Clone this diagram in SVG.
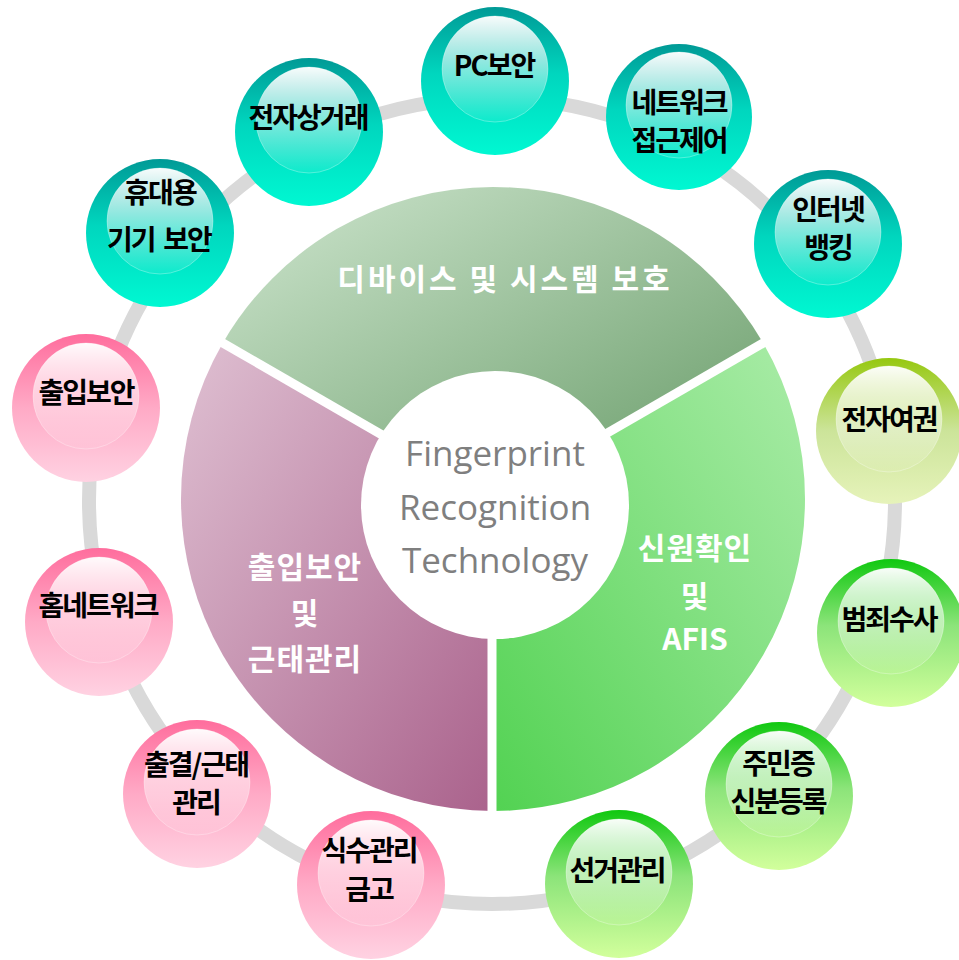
<svg xmlns="http://www.w3.org/2000/svg" width="959" height="960" viewBox="0 0 959 960">
<defs>
<linearGradient id="gTop" x1="0" y1="0" x2="1" y2="1"><stop offset="0" stop-color="#cfe6cf"/><stop offset="1" stop-color="#669a66"/></linearGradient>
<linearGradient id="gLeft" x1="0" y1="0" x2="1" y2="1"><stop offset="0" stop-color="#dfc0d2"/><stop offset="1" stop-color="#aa628c"/></linearGradient>
<linearGradient id="gRight" x1="1" y1="0" x2="0" y2="1"><stop offset="0" stop-color="#aaeca8"/><stop offset="1" stop-color="#52d252"/></linearGradient>
<linearGradient id="teal" x1="0" y1="0" x2="0" y2="1"><stop offset="0" stop-color="#009a96"/><stop offset="0.45" stop-color="#00d6be"/><stop offset="1" stop-color="#00f8d2"/></linearGradient>
<linearGradient id="pink" x1="0" y1="0" x2="0" y2="1"><stop offset="0" stop-color="#ff6d9d"/><stop offset="0.5" stop-color="#ffaac6"/><stop offset="1" stop-color="#ffd2e2"/></linearGradient>
<linearGradient id="green" x1="0" y1="0" x2="0" y2="1"><stop offset="0" stop-color="#10c810"/><stop offset="0.45" stop-color="#8ce47a"/><stop offset="1" stop-color="#d2ff9c"/></linearGradient>
<linearGradient id="lime" x1="0" y1="0" x2="0" y2="1"><stop offset="0" stop-color="#96c810"/><stop offset="0.5" stop-color="#cce49a"/><stop offset="1" stop-color="#e6f3ba"/></linearGradient>
<linearGradient id="hl" x1="0" y1="0" x2="0" y2="1"><stop offset="0" stop-color="#ffffff" stop-opacity="0.97"/><stop offset="0.5" stop-color="#ffffff" stop-opacity="0.5"/><stop offset="1" stop-color="#ffffff" stop-opacity="0.05"/></linearGradient>
</defs>
<style>
.lbl{font-family:"Noto Sans CJK KR","Noto Sans",sans-serif;font-weight:700;font-size:28px;fill:#000;text-anchor:middle;letter-spacing:-2px}
.seg{font-family:"Noto Sans CJK KR","Noto Sans",sans-serif;font-weight:700;font-size:30px;fill:#fff;text-anchor:middle;letter-spacing:1px}
.ctr{font-family:"Open Sans","Noto Sans",sans-serif;font-size:35px;fill:#7f7f7f;text-anchor:middle}
.hl{fill:url(#hl);stroke:#fff;stroke-opacity:0.3;stroke-width:1}
.gap{stroke:#fff;stroke-width:9}
</style>
<rect width="959" height="960" fill="#fff"/>
<g id="connectors">
<circle cx="492" cy="501" r="403" fill="none" stroke="#d9d9d9" stroke-width="14"/>
</g>
<g id="pie">
<path d="M493,499 L222.8,343 A312,312 0 0 1 763.2,343 Z" fill="url(#gTop)"/>
<path d="M493,499 L763.2,343 A312,312 0 0 1 493,811 Z" fill="url(#gRight)"/>
<path d="M493,499 L493,811 A312,312 0 0 1 222.8,343 Z" fill="url(#gLeft)"/>
<line class="gap" x1="493" y1="499" x2="215" y2="338.5"/>
<line class="gap" x1="493" y1="499" x2="771" y2="338.5"/>
<line class="gap" x1="492" y1="499" x2="492" y2="815"/>
<text class="seg" x="505" y="290" style="letter-spacing:3px">디바이스 및 시스템 보호</text>
<text class="seg" x="305" y="578">출입보안</text>
<text class="seg" x="305" y="624">및</text>
<text class="seg" x="305" y="670">근태관리</text>
<text class="seg" x="695" y="559">신원확인</text>
<text class="seg" x="695" y="607">및</text>
<text class="seg" x="695" y="650" style="letter-spacing:0">AFIS</text>
</g>
<g id="center">
<circle cx="495" cy="505" r="134" fill="#fff"/>
<text class="ctr" x="495" y="466">Fingerprint</text>
<text class="ctr" x="495" y="520">Recognition</text>
<text class="ctr" x="495" y="573">Technology</text>
</g>
<g id="n-pc"><circle cx="495" cy="81" r="74" fill="url(#teal)"/><circle class="hl" cx="495" cy="69" r="53"/><text class="lbl" x="494" y="76">PC보안</text></g>
<g id="n-net"><circle cx="679" cy="117" r="73" fill="url(#teal)"/><circle class="hl" cx="679" cy="105" r="53"/><text class="lbl" x="679" y="113">네트워크</text><text class="lbl" x="679" y="151">접근제어</text></g>
<g id="n-bank"><circle cx="828" cy="244" r="74" fill="url(#teal)"/><circle class="hl" cx="828" cy="232" r="53"/><text class="lbl" x="828" y="220">인터넷</text><text class="lbl" x="828" y="258">뱅킹</text></g>
<g id="n-passport"><circle cx="889" cy="431" r="73" fill="url(#lime)"/><circle class="hl" cx="889" cy="419" r="53"/><text class="lbl" x="889" y="430">전자여권</text></g>
<g id="n-crime"><circle cx="891" cy="633" r="74" fill="url(#green)"/><circle class="hl" cx="891" cy="621" r="53"/><text class="lbl" x="889" y="630">범죄수사</text></g>
<g id="n-id"><circle cx="779" cy="796" r="74" fill="url(#green)"/><circle class="hl" cx="779" cy="784" r="53"/><text class="lbl" x="778" y="774">주민증</text><text class="lbl" x="778" y="812">신분등록</text></g>
<g id="n-vote"><circle cx="619" cy="884" r="74" fill="url(#green)"/><circle class="hl" cx="619" cy="872" r="53"/><text class="lbl" x="617" y="881">선거관리</text></g>
<g id="n-meal"><circle cx="371" cy="885" r="74" fill="url(#pink)"/><circle class="hl" cx="371" cy="873" r="53"/><text class="lbl" x="369" y="861">식수관리</text><text class="lbl" x="369" y="900">금고</text></g>
<g id="n-attend"><circle cx="197" cy="794" r="74" fill="url(#pink)"/><circle class="hl" cx="197" cy="782" r="53"/><text class="lbl" x="196" y="775">출결/근태</text><text class="lbl" x="196" y="813">관리</text></g>
<g id="n-home"><circle cx="99" cy="622" r="74" fill="url(#pink)"/><circle class="hl" cx="99" cy="610" r="53"/><text class="lbl" x="98" y="616">홈네트워크</text></g>
<g id="n-access"><circle cx="86" cy="408" r="74" fill="url(#pink)"/><circle class="hl" cx="86" cy="396" r="53"/><text class="lbl" x="86" y="403">출입보안</text></g>
<g id="n-mobile"><circle cx="160" cy="233" r="74" fill="url(#teal)"/><circle class="hl" cx="160" cy="221" r="53"/><text class="lbl" x="160" y="203">휴대용</text><text class="lbl" x="159" y="250" xml:space="preserve">기기  보안</text></g>
<g id="n-ecom"><circle cx="309" cy="132" r="74" fill="url(#teal)"/><circle class="hl" cx="309" cy="120" r="53"/><text class="lbl" x="308" y="128">전자상거래</text></g>
</svg>
